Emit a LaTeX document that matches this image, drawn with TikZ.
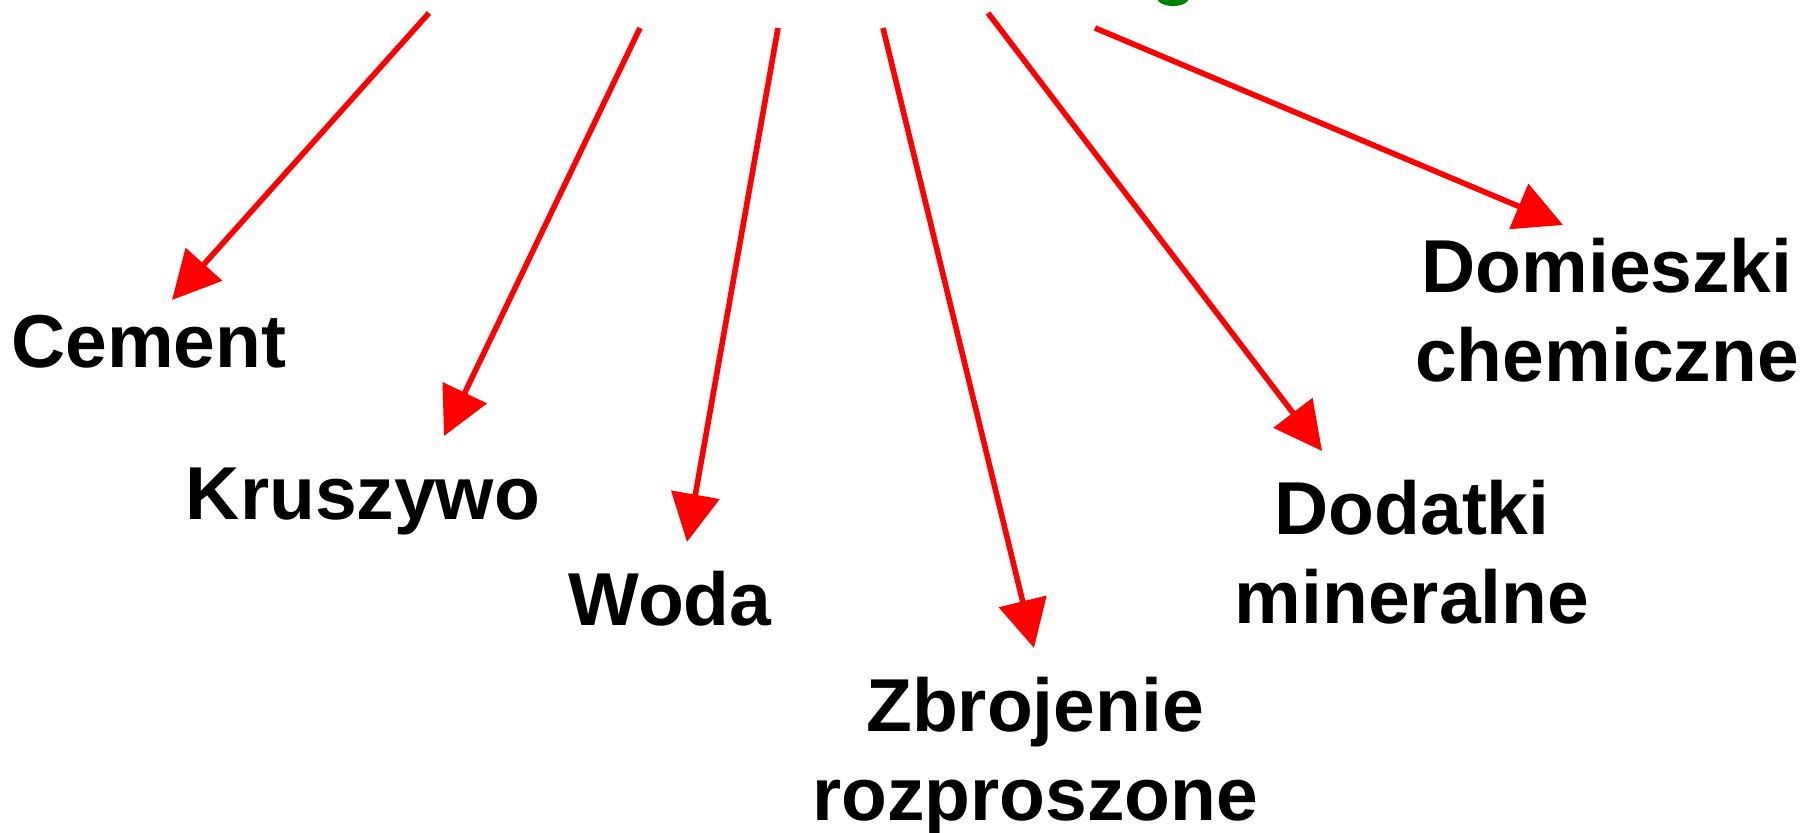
\documentclass[tikz,border=0pt]{standalone}
\usepackage{fontspec}
\newfontfamily\labfont{Liberation Sans}
\usetikzlibrary{arrows.meta}
\begin{document}
\begin{tikzpicture}[x=0.5pt,y=-0.5pt,
  lab/.style={inner sep=0pt,outer sep=0pt,align=center,anchor=base,
    font=\labfont\bfseries\fontsize{37.5}{44.5}\selectfont},
  feed/.style={draw=red,line width=2.8pt,-{Triangle[length=24pt,width=24pt]},fill=red}]
\useasboundingbox (0,0) rectangle (1803,833);
\begin{scope}
  \clip (0,0) rectangle (1803,833);
  \fill[green!50!black] (1173,-2) ellipse [x radius=16, y radius=8];
\end{scope}
% labels (anchor = baseline of last line)
\node[lab] (cem) at (149,368) {Cement};
\node[lab] (kru) at (363,520) {Kruszywo};
\node[lab] (wod) at (670,625) {Woda};
\node[lab] (zbr) at (1035,820) {Zbrojenie\\rozproszone};
\node[lab] (dod) at (1412,623) {Dodatki\\mineralne};
\node[lab] (dom) at (1607,382) {Domieszki\\chemiczne};
% arrow ends
\coordinate (s1) at (429,13);
\coordinate (s2) at (640,28);
\coordinate (s3) at (778,28);
\coordinate (s4) at (883,28);
\coordinate (s5) at (988,13);
\coordinate (s6) at (1095,28);
\coordinate (t1) at (172,300);
\coordinate (t2) at (444,436);
\coordinate (t3) at (687,542);
\coordinate (t4) at (1034,648);
\coordinate (t5) at (1322,451);
\coordinate (t6) at (1563,225);
\draw[feed] (s1) -- (t1);
\draw[feed] (s2) -- (t2);
\draw[feed] (s3) -- (t3);
\draw[feed] (s4) -- (t4);
\draw[feed] (s5) -- (t5);
\draw[feed] (s6) -- (t6);
\end{tikzpicture}
\end{document}
